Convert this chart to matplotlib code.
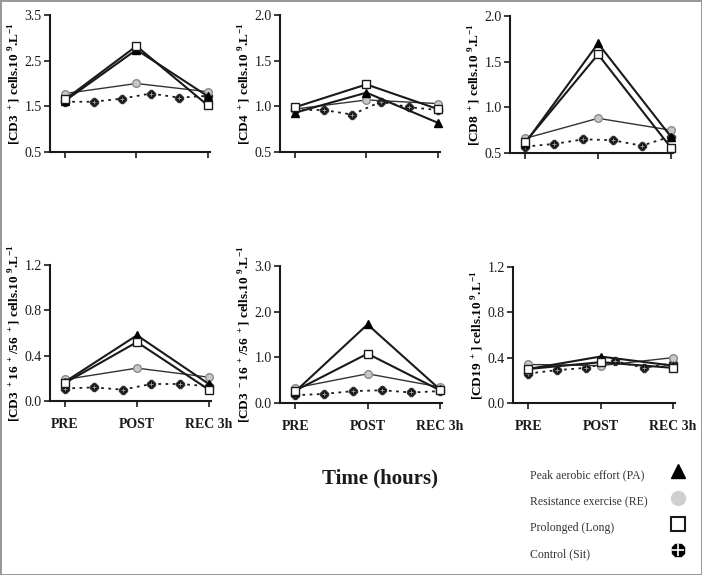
import matplotlib
matplotlib.use("Agg")
import matplotlib.pyplot as plt
from matplotlib.lines import Line2D

plt.rcParams['font.family'] = ['Liberation Serif', 'DejaVu Serif']
plt.rcParams['mathtext.fontset'] = 'custom'
plt.rcParams['mathtext.rm'] = 'Liberation Serif:bold'
plt.rcParams['mathtext.bf'] = 'Liberation Serif:bold'

# time points
times = [0, 1, 2]
time_labels = ['PRE', 'POST', 'REC 3h']
control_times = [0, 0.4, 0.8, 1.2, 1.6, 2.0]

# CD3+
cd3_pa = [1.62, 2.74, 1.72]
cd3_long = [1.65, 2.82, 1.52]
cd3_re = [1.78, 2.0, 1.82]
cd3_sit = [1.60, 1.60, 1.67, 1.78, 1.69, 1.73]

# CD4+
cd4_pa = [0.93, 1.15, 0.82]
cd4_long = [0.99, 1.24, 0.97]
cd4_re = [0.97, 1.07, 1.03]
cd4_sit = [0.96, 0.96, 0.91, 1.05, 0.99, 0.96]

# CD8+
cd8_pa = [0.61, 1.70, 0.68]
cd8_long = [0.62, 1.58, 0.56]
cd8_re = [0.66, 0.88, 0.75]
cd8_sit = [0.57, 0.60, 0.65, 0.64, 0.58, 0.68]

# CD3+16+/56+
nkt_pa = [0.17, 0.58, 0.15]
nkt_long = [0.16, 0.52, 0.10]
nkt_re = [0.19, 0.29, 0.21]
nkt_sit = [0.11, 0.12, 0.10, 0.15, 0.15, 0.13]

# CD3-16+/56+
nk_pa = [0.25, 1.72, 0.30]
nk_long = [0.27, 1.08, 0.28]
nk_re = [0.33, 0.64, 0.35]
nk_sit = [0.17, 0.20, 0.26, 0.28, 0.23, 0.26]

# CD19+
cd19_pa = [0.30, 0.41, 0.33]
cd19_long = [0.30, 0.36, 0.31]
cd19_re = [0.34, 0.33, 0.40]
cd19_sit = [0.26, 0.29, 0.31, 0.37, 0.31, 0.35]

unit = r' cells.10$^{\ 9}$.L$^{-1}$'
ylabels = [
    r'[CD3$^{\ +}$]' + unit,
    r'[CD4$^{\ +}$]' + unit,
    r'[CD8$^{\ +}$]' + unit,
    r'[CD3$^{\ +}$16$^{\ +}$/56$^{\ +}$]' + unit,
    r'[CD3$^{\ -}$16$^{\ +}$/56$^{\ +}$]' + unit,
    r'[CD19$^{\ +}$]' + unit,
]
yticks = [
    [0.5, 1.5, 2.5, 3.5],
    [0.5, 1.0, 1.5, 2.0],
    [0.5, 1.0, 1.5, 2.0],
    [0.0, 0.4, 0.8, 1.2],
    [0.0, 1.0, 2.0, 3.0],
    [0.0, 0.4, 0.8, 1.2],
]
panels = [
    (cd3_pa, cd3_long, cd3_re, cd3_sit),
    (cd4_pa, cd4_long, cd4_re, cd4_sit),
    (cd8_pa, cd8_long, cd8_re, cd8_sit),
    (nkt_pa, nkt_long, nkt_re, nkt_sit),
    (nk_pa, nk_long, nk_re, nk_sit),
    (cd19_pa, cd19_long, cd19_re, cd19_sit),
]

W, H = 702, 575
# axes boxes in pixels: x0, x1, ytop, ybottom
boxes = [
    (50, 210, 15, 152),
    (280, 440, 15, 152),
    (510, 673, 16, 153),
    (50, 211, 265, 401),
    (280, 442, 266, 403),
    (513, 675, 267, 403),
]

fig = plt.figure(figsize=(7.02, 5.75), dpi=100)
fig.patch.set_edgecolor('#9a9a9a')
fig.patch.set_linewidth(2)

dark = '#1a1a1a'
for i, (box, data) in enumerate(zip(boxes, panels)):
    x0, x1, yt, yb = box
    ax = fig.add_axes([x0 / W, 1 - yb / H, (x1 - x0) / W, (yb - yt) / H])
    pa, lng, re, sit = data
    ax.plot(control_times, sit, linestyle=(0, (1.5, 2.5)), color=dark, lw=1.3,
            marker='8', ms=5.5, mfc='#111111', mec='#333333', zorder=2,
            clip_on=False)
    ax.plot(control_times, sit, linestyle='none', marker='+', ms=3.5, mew=0.7,
            color='#999999', zorder=2.1, clip_on=False)
    ax.plot(times, re, color='#333333', lw=1.0, marker='o', ms=5.5,
            mfc='#c8c8c8', mec='#8a8a8a', zorder=3, clip_on=False)
    ax.plot(times, pa, color=dark, lw=1.5, marker='^', ms=5.5,
            mfc='black', mec='black', zorder=4, clip_on=False)
    ax.plot(times, lng, color=dark, lw=1.5, marker='s', ms=5.5,
            mfc='white', mec=dark, mew=1.0, zorder=5, clip_on=False)
    yt_vals = yticks[i]
    ax.set_ylim(yt_vals[0], yt_vals[-1])
    ax.set_yticks(yt_vals)
    ax.set_yticklabels(['%.1f' % v for v in yt_vals], fontsize=10)
    ax.set_xlim(-0.21, 2.03)
    ax.set_xticks(times)
    if i >= 3:
        ax.set_xticklabels(time_labels, fontsize=10, fontweight='bold')
    else:
        ax.set_xticklabels([])
    ax.tick_params(axis='y', direction='out', length=4, width=1.2,
                   colors=dark, pad=2)
    ax.tick_params(axis='x', direction='out', length=4, width=1.2,
                   colors=dark, pad=8)
    for s in ['top', 'right']:
        ax.spines[s].set_visible(False)
    for s in ['left', 'bottom']:
        ax.spines[s].set_linewidth(1.5)
        ax.spines[s].set_color(dark)
    ax.set_ylabel(ylabels[i], fontsize=9.5, fontweight='bold', labelpad=1)
    ax.patch.set_alpha(0)

fig.text(380 / W, 1 - 478 / H, 'Time (hours)', fontsize=15, fontweight='bold',
         ha='center', va='center', color=dark)

# legend
legend_rows = [
    ('Peak aerobic effort (PA)', dict(marker='^', mfc='black', mec='black')),
    ('Resistance exercise (RE)', dict(marker='o', mfc='#cfcfcf', mec='#cfcfcf')),
    ('Prolonged (Long)', dict(marker='s', mfc='white', mec=dark, mew=1.5)),
    ('Control (Sit)', dict(marker='8', mfc='black', mec='black')),
]
row_y = [475, 502, 528, 554]
for (label, style), y in zip(legend_rows, row_y):
    fig.text(530 / W, 1 - y / H, label, fontsize=8.5, color='#333333',
             ha='left', va='center')
    fig.add_artist(Line2D([678 / W], [1 - (y - 4) / H], linestyle='none',
                          ms=10, transform=fig.transFigure, **style))
# white cross on the control legend marker
fig.add_artist(Line2D([678 / W], [1 - (row_y[3] - 4) / H], linestyle='none',
                      marker='+', ms=9, mew=1.2, color='white',
                      transform=fig.transFigure))

fig.savefig('out.png', dpi=100)
